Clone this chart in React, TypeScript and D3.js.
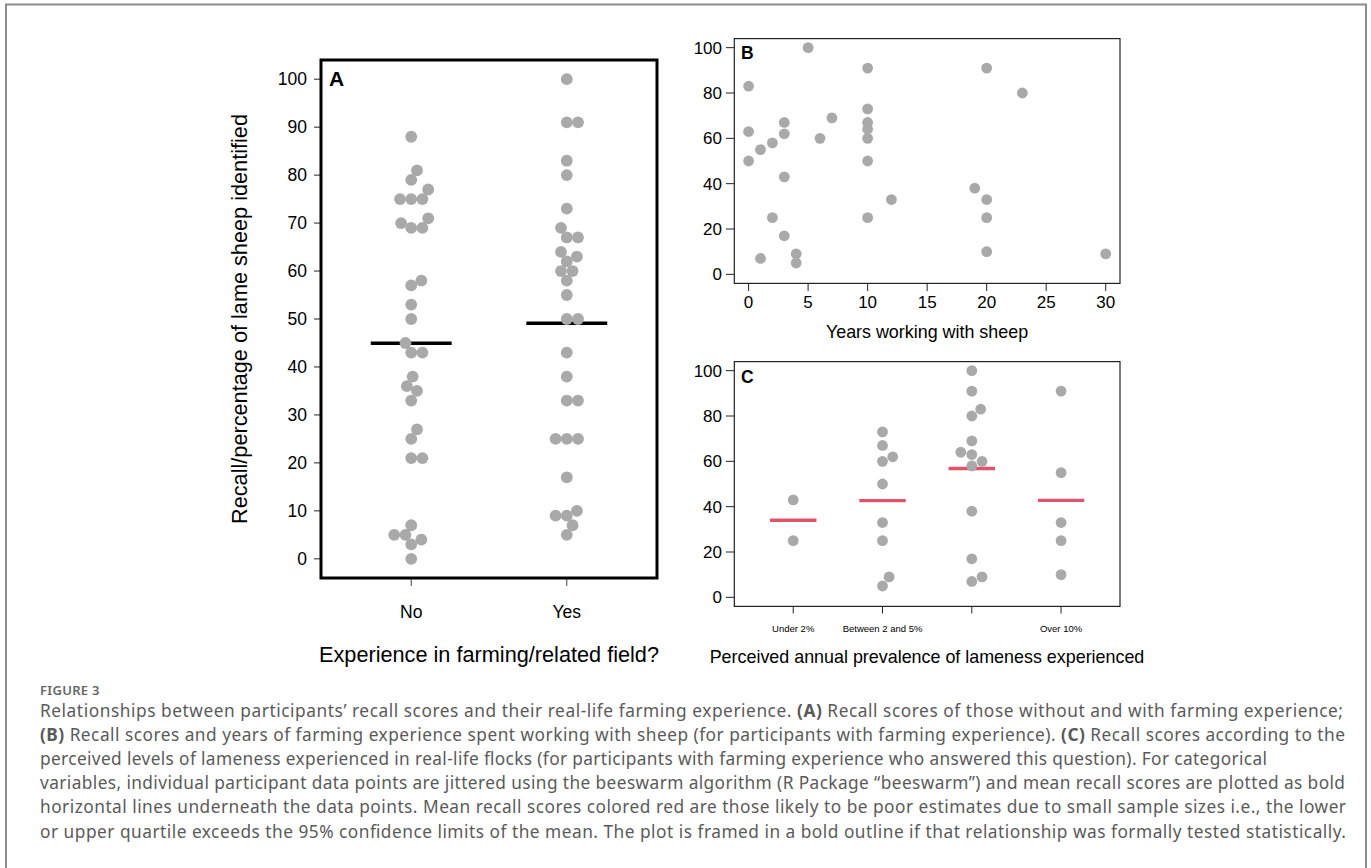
import React from "react";
import * as d3 from "d3";

// Panel A: recall scores by farming experience
const expLabels = ["No", "Yes"];
const noScores = [88, 81, 79, 77, 75, 75, 75, 71, 70, 69, 69, 58, 57, 53, 50, 45, 43, 43, 38, 36, 35, 33, 27, 25, 21, 21, 7, 5, 5, 4, 3, 0];
const yesScores = [100, 91, 91, 83, 80, 73, 69, 67, 67, 64, 63, 62, 60, 60, 58, 55, 50, 50, 43, 38, 33, 33, 25, 25, 25, 17, 10, 9, 9, 7, 5];

// Panel B: years working with sheep vs recall
const sheepYears = [0, 0, 0, 1, 1, 2, 2, 3, 3, 3, 3, 4, 4, 5, 6, 7, 10, 10, 10, 10, 10, 10, 10, 12, 19, 20, 20, 20, 20, 23, 30];
const sheepScores = [83, 63, 50, 55, 7, 58, 25, 67, 62, 43, 17, 9, 5, 100, 60, 69, 91, 73, 67, 64, 60, 50, 25, 33, 38, 91, 33, 25, 10, 80, 9];

// Panel C: perceived prevalence of lameness
const prevLabels = ["Under 2%", "Between 2 and 5%", "", "Over 10%"];
const under2 = [43, 25];
const between2and5 = [73, 67, 62, 60, 50, 33, 25, 9, 5];
const between5and10 = [100, 91, 83, 80, 69, 64, 63, 60, 58, 38, 17, 9, 7];
const over10 = [91, 55, 33, 25, 10];

const scoreTicksA = d3.range(0, 101, 10);
const scoreTicksBC = d3.range(0, 101, 20);
const yearTicks = d3.range(0, 31, 5);

const captionLines = [
  [["Relationships between participants\u2019 recall scores and their real-life farming experience. ", false], ["(A)", true], [" Recall scores of those without and with farming experience;", false]],
  [["(B)", true], [" Recall scores and years of farming experience spent working with sheep (for participants with farming experience). ", false], ["(C)", true], [" Recall scores according to the", false]],
  [["perceived levels of lameness experienced in real-life flocks (for participants with farming experience who answered this question). For categorical", false]],
  [["variables, individual participant data points are jittered using the beeswarm algorithm (R Package \u201cbeeswarm\u201d) and mean recall scores are plotted as bold", false]],
  [["horizontal lines underneath the data points. Mean recall scores colored red are those likely to be poor estimates due to small sample sizes i.e., the lower", false]],
  [["or upper quartile exceeds the 95% confidence limits of the mean. The plot is framed in a bold outline if that relationship was formally tested statistically.", false]],
] as [string, boolean][][];
const captionWidths = [1303, 1305, 1227, 1305, 1306, 1306];

const FONT = "'Liberation Sans', Arial, Helvetica, sans-serif";
const GREY = "#a9a9a9";
const RED = "#DF536B";

// beeswarm "swarm" placement (ascending priority), offsets in pixels
function swarm(py: number[], d = 11.2): number[] {
  const order = d3.range(py.length).sort((a, b) => py[b] - py[a]);
  const placed: { x: number; y: number }[] = [];
  const xs = new Array(py.length).fill(0);
  for (const i of order) {
    const y = py[i];
    const near = placed.filter((p) => Math.abs(p.y - y) < d);
    const plus: number[] = [];
    const minus: number[] = [];
    near.forEach((p) => {
      const off = Math.sqrt(d * d - (p.y - y) ** 2);
      plus.push(p.x + off);
      minus.push(p.x - off);
    });
    const cands = [0, ...plus, ...minus];
    let best = Infinity;
    for (const c of cands) {
      const ok = near.every((p) => (p.x - c) ** 2 + (p.y - y) ** 2 >= d * d - 1e-6);
      if (ok && Math.abs(c) < Math.abs(best) - 1e-9) best = c;
    }
    xs[i] = best;
    placed.push({ x: best, y });
  }
  return xs;
}

const PanelA: React.FC = () => {
  const L = 321, R = 657, T = 60, B = 578;
  const x = d3.scaleLinear().domain([0.42, 2.58]).range([L, R]);
  const y = d3.scaleLinear().domain([-4, 104]).range([B, T]);
  const groups = [noScores, yesScores];
  return (
    <g fontFamily={FONT}>
      {scoreTicksA.map((t) => (
        <g key={t}>
          <line x1={314} x2={L} y1={y(t)} y2={y(t)} stroke="#222" strokeWidth={1} />
          <text x={307} y={y(t)} dy="0.36em" textAnchor="end" fontSize={17.5}>{t}</text>
        </g>
      ))}
      {expLabels.map((lab, i) => (
        <g key={lab}>
          <line x1={x(i + 1)} x2={x(i + 1)} y1={B} y2={586} stroke="#444" strokeWidth={1} />
          <text x={x(i + 1)} y={618} textAnchor="middle" fontSize={17.5}>{lab}</text>
        </g>
      ))}
      {groups.map((vals, gi) => {
        const m = d3.mean(vals) as number;
        return (
          <line key={"m" + gi} x1={x(gi + 1 - 0.26)} x2={x(gi + 1 + 0.26)} y1={y(m)} y2={y(m)} stroke="#000" strokeWidth={3.5} />
        );
      })}
      {groups.map((vals, gi) => {
        const py = vals.map((v) => y(v));
        const off = swarm(py);
        return vals.map((v, i) => (
          <circle key={gi + "-" + i} cx={x(gi + 1) + off[i]} cy={py[i]} r={5.9} fill={GREY} />
        ));
      })}
      <rect x={L} y={T} width={R - L} height={B - T} fill="none" stroke="#000" strokeWidth={3} />
      <text x={329} y={85.5} fontSize={21} fontWeight="bold">A</text>
      <text x={489} y={662} textAnchor="middle" fontSize={21.7}>Experience in farming/related field?</text>
      <text transform={`translate(247,${(T + B) / 2}) rotate(-90)`} textAnchor="middle" fontSize={21.7}>
        Recall/percentage of lame sheep identified
      </text>
    </g>
  );
};

const PanelB: React.FC = () => {
  const L = 734.3, R = 1120, T = 38.6, B = 283.4;
  const x = d3.scaleLinear().domain([-1.2, 31.2]).range([L, R]);
  const y = d3.scaleLinear().domain([-4, 104]).range([B, T]);
  return (
    <g fontFamily={FONT}>
      {scoreTicksBC.map((t) => (
        <g key={t}>
          <line x1={726} x2={L} y1={y(t)} y2={y(t)} stroke="#222" strokeWidth={1} />
          <text x={722} y={y(t)} dy="0.36em" textAnchor="end" fontSize={17}>{t}</text>
        </g>
      ))}
      {yearTicks.map((t) => (
        <g key={t}>
          <line x1={x(t)} x2={x(t)} y1={B} y2={291} stroke="#222" strokeWidth={1} />
          <text x={x(t)} y={308} textAnchor="middle" fontSize={17}>{t}</text>
        </g>
      ))}
      {sheepYears.map((yr, i) => (
        <circle key={i} cx={x(yr)} cy={y(sheepScores[i])} r={5.4} fill={GREY} />
      ))}
      <rect x={L} y={T} width={R - L} height={B - T} fill="none" stroke="#222" strokeWidth={1.2} />
      <text x={741} y={59} fontSize={17.5} fontWeight="bold">B</text>
      <text x={927} y={337.5} textAnchor="middle" fontSize={17.9}>Years working with sheep</text>
    </g>
  );
};

const PanelC: React.FC = () => {
  const L = 734.3, R = 1120, T = 361.6, B = 606.4;
  const x = d3.scaleLinear().domain([0.34, 4.66]).range([L, R]);
  const y = d3.scaleLinear().domain([-4, 104]).range([B, T]);
  const groups = [under2, between2and5, between5and10, over10];
  return (
    <g fontFamily={FONT}>
      {scoreTicksBC.map((t) => (
        <g key={t}>
          <line x1={726} x2={L} y1={y(t)} y2={y(t)} stroke="#222" strokeWidth={1} />
          <text x={722} y={y(t)} dy="0.36em" textAnchor="end" fontSize={17}>{t}</text>
        </g>
      ))}
      {prevLabels.map((lab, i) => (
        <g key={i}>
          <line x1={x(i + 1)} x2={x(i + 1)} y1={B} y2={613.5} stroke="#222" strokeWidth={1} />
          <text x={x(i + 1)} y={632} textAnchor="middle" fontSize={9.5}>{lab}</text>
        </g>
      ))}
      {groups.map((vals, gi) => {
        const m = d3.mean(vals) as number;
        return (
          <line key={"m" + gi} x1={x(gi + 1 - 0.26)} x2={x(gi + 1 + 0.26)} y1={y(m)} y2={y(m)} stroke={RED} strokeWidth={3.3} />
        );
      })}
      {groups.map((vals, gi) => {
        const py = vals.map((v) => y(v));
        const off = swarm(py);
        return vals.map((v, i) => (
          <circle key={gi + "-" + i} cx={x(gi + 1) + off[i]} cy={py[i]} r={5.4} fill={GREY} />
        ));
      })}
      <rect x={L} y={T} width={R - L} height={B - T} fill="none" stroke="#222" strokeWidth={1.2} />
      <text x={741} y={383} fontSize={17.5} fontWeight="bold">C</text>
      <text x={927} y={662.5} textAnchor="middle" fontSize={17.9}>Perceived annual prevalence of lameness experienced</text>
    </g>
  );
};

const Caption: React.FC = () => (
  <g fontFamily="'Noto Sans', 'Open Sans', sans-serif">
    <text x={40} y={695} fontSize={13} fontWeight={600} fill="#666" letterSpacing={0.3}>FIGURE 3</text>
    {captionLines.map((parts, li) => (
      <text key={li} x={40} y={717 + li * 24.1} fontSize={17.3} fill="#5a5a5a"
        textLength={captionWidths[li]} lengthAdjust="spacing">
        {parts.map(([s, bold], k) => (
          <tspan key={k} fontWeight={bold ? 700 : 400}>{s}</tspan>
        ))}
      </text>
    ))}
  </g>
);

export default function App() {
  return (
    <svg width={1371} height={868} style={{ position: "absolute", left: 0, top: 0, display: "block", background: "#fff" }}>
      <rect width={1371} height={868} fill="#fff" />
      <path d="M6,868 V4.5 H1366 V868" fill="none" stroke="#8c8c8c" strokeWidth={2} />
      <PanelA />
      <PanelB />
      <PanelC />
      <Caption />
    </svg>
  );
}
